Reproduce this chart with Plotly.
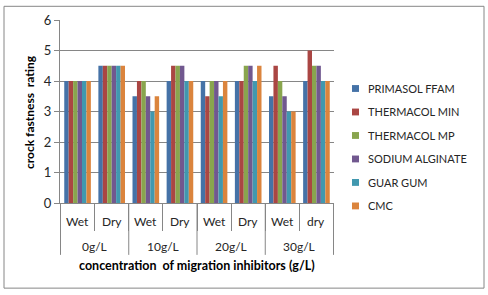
import plotly.graph_objects as go

groups = ["0g/L", "10g/L", "20g/L", "30g/L"]
conditions = ["Wet", "Dry", "Wet", "Dry", "Wet", "Dry", "Wet", "dry"]
series_names = ["PRIMASOL FFAM", "THERMACOL MIN", "THERMACOL MP",
                "SODIUM ALGINATE", "GUAR GUM", "CMC"]
primasol = [4, 4.5, 3.5, 4, 4, 4, 3.5, 4]
thermacol_min = [4, 4.5, 4, 4.5, 3.5, 4, 4.5, 5]
thermacol_mp = [4, 4.5, 4, 4.5, 4, 4.5, 4, 4.5]
sodium_alginate = [4, 4.5, 3.5, 4.5, 4, 4.5, 3.5, 4.5]
guar_gum = [4, 4.5, 3, 4, 3.5, 4, 3, 4]
cmc = [4, 4.5, 3.5, 4, 4, 4.5, 3, 4]
y_ticks = [0, 1, 2, 3, 4, 5, 6]

series_values = [primasol, thermacol_min, thermacol_mp, sodium_alginate, guar_gum, cmc]
colors = ["#4572A7", "#AA4643", "#89A54E", "#71588F", "#4198AF", "#DB843D"]

# category keys (unique) for each bar cluster
cats = [f"{groups[i // 2]} {conditions[i]}" for i in range(len(conditions))]

W, H = 488, 295
L, R, T, B = 60, 154, 16, 92
pw, ph = W - L - R, H - T - B

def px_x(px):
    return (px - L) / pw

def px_y(py):
    return (H - B - py) / ph

fig = go.Figure()
for name, vals, col in zip(series_names, series_values, colors):
    fig.add_trace(go.Bar(x=cats, y=vals, name=name, marker_color=col,
                         marker_line_width=0, showlegend=False))

FONT = "Lato"
GRAY = "#868686"
annotations = []
shapes = []

# condition labels
for i, c in enumerate(conditions):
    annotations.append(dict(x=i, xref="x", y=px_y(222), yref="paper", text=c,
                            showarrow=False, yanchor="middle",
                            font=dict(family=FONT, size=12, color="#262626")))
# group labels and dividers
for g, name in enumerate(groups):
    annotations.append(dict(x=2 * g + 0.5, xref="x", y=px_y(247), yref="paper",
                            text=name, showarrow=False, yanchor="middle",
                            font=dict(family=FONT, size=12, color="#262626")))
for b in range(len(groups) + 1):
    shapes.append(dict(type="line", xref="x", yref="paper", x0=2 * b - 0.5,
                       x1=2 * b - 0.5, y0=0, y1=px_y(256),
                       line=dict(color=GRAY, width=1)))

# axis titles
annotations.append(dict(x=0.5, xref="paper", y=px_y(267), yref="paper",
                        text="<b>concentration  of migration inhibitors (g/L)</b>",
                        showarrow=False, yanchor="middle",
                        font=dict(family=FONT, size=12.5, color="#000000")))
annotations.append(dict(x=px_x(30), xref="paper", y=px_y(110), yref="paper",
                        text="<b>crock fastness  rating</b>", textangle=-90,
                        showarrow=False, xanchor="center", yanchor="middle",
                        font=dict(family=FONT, size=12, color="#000000")))

# legend (manual)
for k, (name, col) in enumerate(zip(series_names, colors)):
    cy = 86 + 24 * k
    shapes.append(dict(type="rect", xref="paper", yref="paper",
                       x0=px_x(352), x1=px_x(359), y0=px_y(cy - 3.5), y1=px_y(cy + 3.5),
                       fillcolor=col, line=dict(width=0)))
    annotations.append(dict(x=px_x(366), xref="paper", y=px_y(cy), yref="paper",
                            text=name, showarrow=False, xanchor="left", yanchor="middle",
                            font=dict(family=FONT, size=11, color="#262626")))

# outer frame
shapes.append(dict(type="rect", xref="paper", yref="paper",
                   x0=px_x(4), x1=px_x(484), y0=px_y(290), y1=px_y(2),
                   line=dict(color=GRAY, width=1), fillcolor="rgba(0,0,0,0)"))

fig.update_layout(
    width=W, height=H,
    margin=dict(l=L, r=R, t=T, b=B),
    paper_bgcolor="white", plot_bgcolor="white",
    barmode="group", bargap=0.22, bargroupgap=0,
    annotations=annotations, shapes=shapes,
    xaxis=dict(type="category", showticklabels=False, ticks="outside",
               tickson="boundaries", ticklen=27, tickcolor=GRAY,
               showline=True, linecolor=GRAY, showgrid=False),
    yaxis=dict(range=[0, 6], tickvals=y_ticks, showgrid=True, gridcolor=GRAY,
               showline=True, linecolor=GRAY, ticks="outside", ticklen=5,
               tickcolor=GRAY, zeroline=False,
               tickfont=dict(family=FONT, size=13, color="#262626")),
)

fig.write_html("out.html", config={"displayModeBar": False},
               post_script="document.body.style.margin='0px';document.body.style.overflow='hidden';")
